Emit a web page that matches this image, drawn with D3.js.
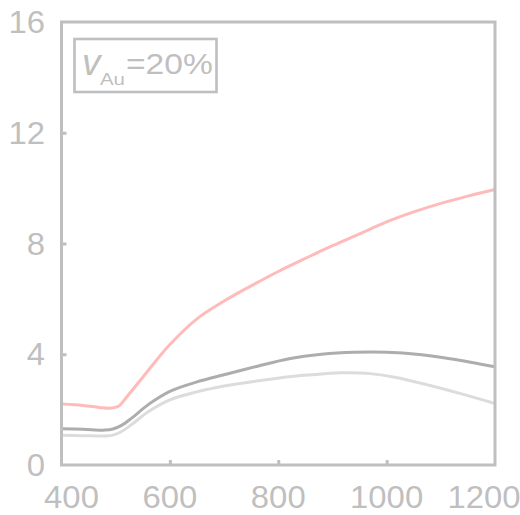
<!DOCTYPE html>
<html>
<head>
<meta charset="utf-8">
<script src="https://cdn.jsdelivr.net/npm/d3@7"></script>
<style>
  html, body { margin: 0; padding: 0; background: #fff; }
  svg { display: block; }
  text { font-family: "Liberation Sans", Arial, Helvetica, sans-serif; fill: #bfbfbf; }
</style>
</head>
<body>
<svg id="chart" width="520" height="515"></svg>
<script>
// Wavelength (nm) samples and the three response curves
const wlPink = [400, 440, 470, 490, 505, 520, 550, 600, 650, 700, 750, 800, 850, 900, 950, 1000, 1050, 1100, 1150, 1200];
const valPink = [2.20, 2.15, 2.08, 2.05, 2.12, 2.45, 3.17, 4.35, 5.28, 5.92, 6.47, 6.99, 7.46, 7.92, 8.35, 8.78, 9.14, 9.45, 9.71, 9.95];

const wlDark = [400, 440, 480, 495, 510, 530, 560, 600, 650, 700, 760, 820, 880, 940, 1000, 1060, 1120, 1200];
const valDark = [1.31, 1.29, 1.26, 1.30, 1.42, 1.70, 2.18, 2.66, 3.00, 3.26, 3.56, 3.84, 4.00, 4.07, 4.07, 3.99, 3.83, 3.55];

const wlLight = [400, 440, 480, 495, 510, 530, 560, 600, 650, 700, 760, 820, 880, 920, 970, 1020, 1080, 1140, 1200];
const valLight = [1.07, 1.06, 1.05, 1.08, 1.20, 1.47, 1.92, 2.35, 2.64, 2.85, 3.03, 3.19, 3.29, 3.33, 3.30, 3.15, 2.87, 2.56, 2.22];

const xTicks = [400, 600, 800, 1000, 1200];
const yTicks = [0, 4, 8, 12, 16];
const legendValue = "=20%";

const svg = d3.select("#chart");
const frame = { left: 61.5, right: 495, top: 22, bottom: 465 };
const grey = "#bfbfbf";

const x = d3.scaleLinear().domain([400, 1200]).range([frame.left, frame.right]);
const y = d3.scaleLinear().domain([0, 16]).range([frame.bottom, frame.top]);

// inward ticks on the left and bottom axes
const yAxis = d3.axisLeft(y).tickValues(yTicks.slice(1, -1)).tickSize(-5).tickSizeOuter(0).tickFormat("");
const xAxis = d3.axisBottom(x).tickValues(xTicks.slice(1, -1)).tickSize(-5).tickSizeOuter(0).tickFormat("");

svg.append("g").attr("transform", `translate(${frame.left},0)`).call(yAxis)
  .call(g => g.select(".domain").remove())
  .selectAll("line").attr("stroke", grey).attr("stroke-width", 3);
svg.append("g").attr("transform", `translate(0,${frame.bottom})`).call(xAxis)
  .call(g => g.select(".domain").remove())
  .selectAll("line").attr("stroke", grey).attr("stroke-width", 3);

// curves
const series = [
  { wl: wlLight, v: valLight, color: "#dcdcdc" },
  { wl: wlDark, v: valDark, color: "#adadad" },
  { wl: wlPink, v: valPink, color: "#ffbaba" }
];
const line = d3.line().x(d => x(d[0])).y(d => y(d[1])).curve(d3.curveCatmullRom.alpha(0.5));
series.forEach(s => {
  svg.append("path")
    .datum(s.wl.map((w, i) => [w, s.v[i]]))
    .attr("fill", "none")
    .attr("stroke", s.color)
    .attr("stroke-width", 3)
    .attr("d", line);
});

// plot box
svg.append("rect")
  .attr("x", frame.left).attr("y", frame.top)
  .attr("width", frame.right - frame.left).attr("height", frame.bottom - frame.top)
  .attr("fill", "none").attr("stroke", grey).attr("stroke-width", 3);

// tick labels (slightly wide lettering)
const sx = 1.06;
svg.append("g").selectAll("text").data(yTicks).join("text")
  .attr("transform", d => `translate(45,${y(d)}) scale(${sx},1)`)
  .attr("text-anchor", "end")
  .attr("dy", "0.36em")
  .attr("font-size", 31)
  .text(d => d);

svg.append("g").selectAll("text").data(xTicks).join("text")
  .attr("transform", (d, i) => {
    const nudge = i === 0 ? 10 : (i === xTicks.length - 1 ? -11 : 0);
    return `translate(${x(d) + nudge},508) scale(${sx},1)`;
  })
  .attr("text-anchor", "middle")
  .attr("font-size", 31)
  .text(d => d);

// legend label box
const lg = svg.append("g");
lg.append("rect")
  .attr("x", 74.5).attr("y", 39)
  .attr("width", 142).attr("height", 53)
  .attr("fill", "#fff").attr("stroke", grey).attr("stroke-width", 2.6);
lg.append("text")
  .attr("x", 82).attr("y", 75)
  .attr("font-size", 37).attr("font-style", "italic")
  .text("v");
lg.append("text")
  .attr("transform", "translate(100,85) scale(1.2,1)")
  .attr("font-size", 17)
  .text("Au");
lg.append("text")
  .attr("transform", "translate(126,74) scale(1.12,1)")
  .attr("font-size", 30)
  .text(legendValue);
</script>
</body>
</html>
